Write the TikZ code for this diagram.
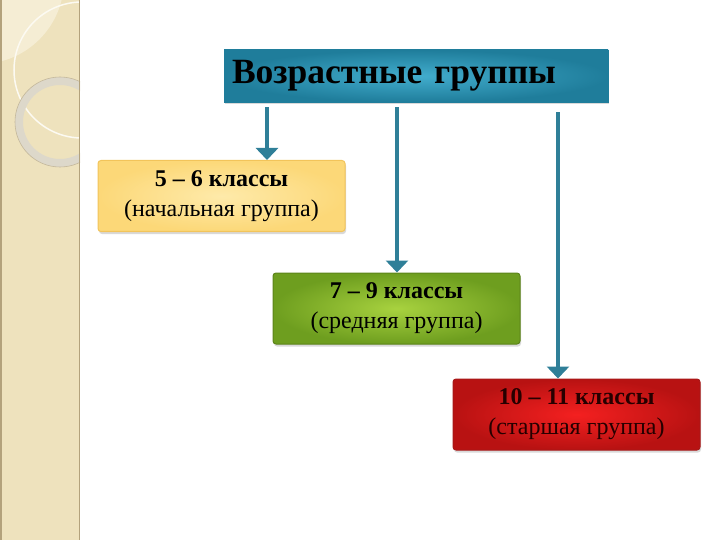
\documentclass[tikz,border=0pt]{standalone}
\usepackage{fontspec}
\setmainfont{Liberation Serif}
\usetikzlibrary{arrows.meta,positioning,shadows}

\definecolor{stripbg}{HTML}{EEE2BD}
\definecolor{stripedge}{HTML}{B3A27C}
\definecolor{leaf}{HTML}{F5EDD4}
\definecolor{ringc}{HTML}{DDD8CA}
\definecolor{titlein}{HTML}{42ADCD}
\definecolor{titleout}{HTML}{1F7D9B}
\definecolor{arrowteal}{HTML}{2F7F98}
\definecolor{yelin}{HTML}{FEEAAA}
\definecolor{yelout}{HTML}{FCD878}
\definecolor{yelline}{HTML}{F2C45A}
\definecolor{grnin}{HTML}{A8D23F}
\definecolor{grnout}{HTML}{6E9E1F}
\definecolor{grnline}{HTML}{5C8419}
\definecolor{redin}{HTML}{F42020}
\definecolor{redout}{HTML}{B81212}
\definecolor{redline}{HTML}{A81818}

\begin{document}
\begin{tikzpicture}[x=1pt,y=-1pt,
  grp/.style={rounded corners=3pt, line width=1pt, minimum width=247pt, minimum height=71pt,
    align=center, font=\fontsize{24}{30}\selectfont,
    drop shadow={opacity=0.3, shadow xshift=1pt, shadow yshift=-2.5pt}},
  arr/.style={draw=arrowteal, line width=4pt, -{Triangle[width=22pt,length=12pt]}}]
  \useasboundingbox (0,0) rectangle (720,540);

  % left strip
  \fill[stripbg] (0,0) rectangle (80,540);
  \begin{scope}
    \clip (0,0) rectangle (80,540);
    \fill[leaf] (-20,-20) circle (84);
    \draw[white!70!leaf, line width=1.5pt] (82,70) circle (68);
    \draw[ringc, line width=8pt] (60,122) circle (41);
    \draw[stripedge!60!ringc, line width=0.6pt] (60,122) circle (45);
  \end{scope}
  \draw[stripedge, line width=1.5pt] (0.75,0) -- (0.75,540);
  \draw[stripedge, line width=1.2pt] (79.4,0) -- (79.4,540);

  % title
  \node (title) at (416,76) [draw=titleout, inner color=titlein, outer color=titleout,
    minimum width=384pt, minimum height=52pt, text width=368pt, inner sep=8pt, align=left,
    font=\fontsize{35.5}{38}\selectfont\bfseries,
    drop shadow={opacity=0.3, shadow xshift=1pt, shadow yshift=-2.5pt}] {Возрастные группы};

  % groups
  \node (yel) at (221.5,196) [grp, draw=yelline, inner color=yelin, outer color=yelout]
    {\textbf{5 – 6 классы}\\(начальная группа)};
  \node (grn) at (396.5,308.5) [grp, draw=grnline, inner color=grnin, outer color=grnout]
    {\textbf{7 – 9 классы}\\(средняя группа)};
  \node (red) at (576.5,414.5) [grp, draw=redline, inner color=redin, outer color=redout,
    text=black!85!red] {\textbf{10 – 11 классы}\\(старшая группа)};

  % arrows
  \coordinate (c1) at (267,0);
  \coordinate (c2) at (397,0);
  \coordinate (c3) at (558,0);
  \draw[arr] ([yshift=-5pt]title.south -| c1) -- (yel.north -| c1);
  \draw[arr] ([yshift=-5pt]title.south -| c2) -- (grn.north -| c2);
  \draw[arr] ([yshift=-10pt]title.south -| c3) -- (red.north -| c3);
\end{tikzpicture}
\end{document}
